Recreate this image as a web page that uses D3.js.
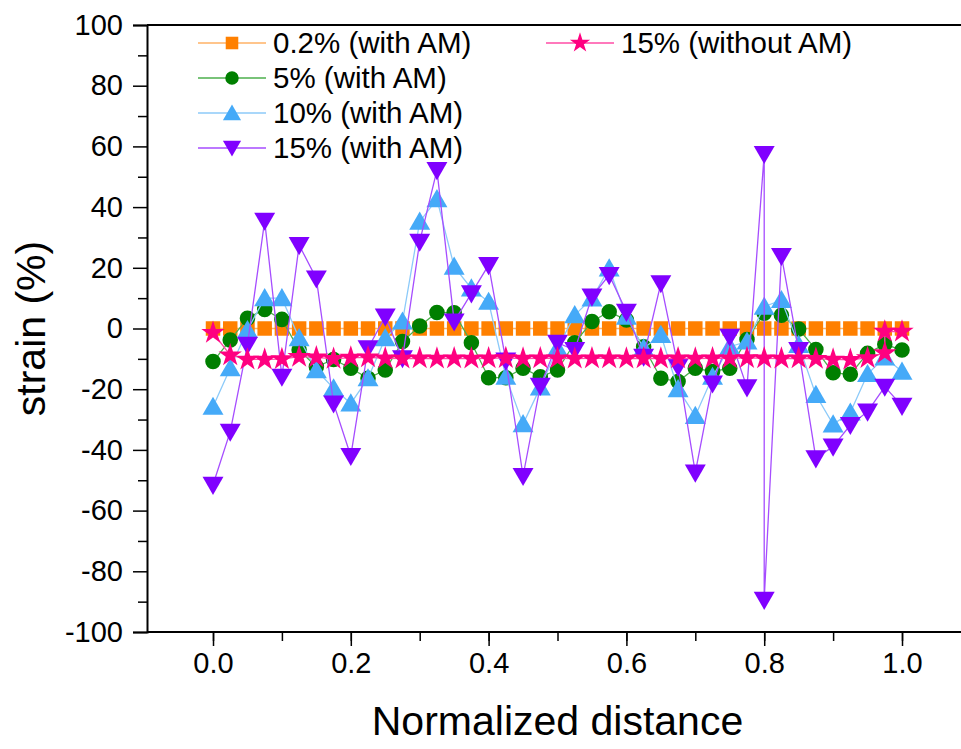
<!DOCTYPE html>
<html>
<head>
<meta charset="utf-8">
<script src="https://cdn.jsdelivr.net/npm/d3@7"></script>
<style>
  body { margin: 0; background: #fff; }
  text { font-family: "Liberation Sans", Arial, sans-serif; }
</style>
</head>
<body>
<div id="chart"></div>
<script>
// normalized distance, 41 stations (0 .. 1 in 0.025 steps)
var xs = d3.range(41).map(function(i){ return +(i * 0.025).toFixed(3); });

// strain values
var s02 = [0,0,0,0,0,0,0,0,0,0, 0,0,0,0,0,0,0,0,0,0, 0,0,0,0,0,0,0,0,0,0, 0,0,0,0,0,0,0,0,0,0, 0];
var s5 = [-10.9,-3.8,3.4,6.3,3.0,-7.1,-12.6,-10.2,-13.1,-16.4,
          -13.7,-4.3,0.8,5.3,5.2,-4.7,-16.2,-16.2,-13.1,-15.9,
          -13.7,-4.7,2.3,5.5,2.8,-6.0,-16.4,-17.5,-13.1,-14.2,
          -13.1,-3.6,5.0,4.4,-0.2,-6.9,-14.6,-15.1,-8.2,-5.2,-7.1];
var s10 = [-25.8,-13.1,-0.5,10,10,-3.2,-13.7,-19.7,-24.7,-16.4,
           -3.2,2.3,35.2,42.6,20.4,13.2,8.8,-15.9,-31.5,-19.4,
           -6.5,4.4,9.9,19.8,3.9,-6.5,-2.1,-20,-28.8,-15.9,
           -6,-4.3,7.2,9.4,-5.4,-21.9,-31.6,-27.7,-15,-9.5,-14.2];
// 15% with AM has two readings at 0.8
var x15 = xs.slice(0, 33).concat([0.8]).concat(xs.slice(33));
var s15 = [-51.5,-34,-5.4,35.5,-15.9,27.5,16.5,-24.7,-42,-6.5,
           3.9,-9.8,28.6,52.2,2.3,11.6,20.9,-10.6,-48.6,-18.9,
           -4.7,-7.1,10.5,17.6,5.5,-9.3,14.9,-12.6,-47.5,-18.1,
           -2.7,-19.4,57.5,-89.4,23.9,-7.1,-42.8,-38.9,-31.8,-27.4,-19.2,-25.5];
// 15% without AM has two readings at 0.975
var x15n = xs.slice(0, 40).concat([0.975, 1.0]);
var s15n = [-1.4,-8.8,-10.2,-10.2,-10.1,-9.3,-9.5,-10,-9.6,-9.5,
            -9.8,-9.9,-9.8,-9.9,-9.8,-9.9,-9.8,-9.7,-9.9,-9.8,
            -9.8,-9.9,-9.8,-9.8,-9.9,-9.8,-9.9,-9.8,-9.9,-9.8,
            -9.8,-9.7,-9.8,-9.9,-9.8,-10,-10.2,-10.3,-9.7,-8.1,-1.0,-1.0];

var yTicks = [-100,-80,-60,-40,-20,0,20,40,60,80,100];
var xTicks = [0.0,0.2,0.4,0.6,0.8,1.0];

var series = [
  { name: "0.2% (with AM)", x: xs, y: s02, color: "#ff8000", line: "#ffb266", sym: d3.symbolSquare, size: 210, rot: 0 },
  { name: "5% (with AM)", x: xs, y: s5, color: "#007f00", line: "#4caf4c", sym: d3.symbolCircle, size: 190, rot: 0 },
  { name: "10% (with AM)", x: xs, y: s10, color: "#45aaf8", line: "#8ccaf9", sym: d3.symbolTriangle, size: 190, rot: 0 },
  { name: "15% (with AM)", x: x15, y: s15, color: "#8000ff", line: "#a64dff", sym: d3.symbolTriangle, size: 190, rot: 180 },
  { name: "15% (without AM)", x: x15n, y: s15n, color: "#ff0080", line: "#ff4da6", sym: d3.symbolStar, size: 170, rot: 0 }
];

var width = 961, height = 749;
var margin = { top: 25, left: 147, bottom: 117 };

var svg = d3.select("#chart").append("svg")
  .attr("width", width).attr("height", height);

var x = d3.scaleLinear().domain([-0.0958, 1.1]).range([margin.left, margin.left + 1.1958 * 689]);
var y = d3.scaleLinear().domain([-100, 100]).range([height - margin.bottom, margin.top]);

// frame: top line
svg.append("line")
  .attr("x1", margin.left).attr("x2", width)
  .attr("y1", y(100)).attr("y2", y(100))
  .attr("stroke", "#000").attr("stroke-width", 2);

// minor ticks
var xAxisMinor = d3.axisBottom(x).tickValues(d3.range(-0.0, 1.11, 0.1)).tickSize(9).tickFormat("");
var yAxisMinor = d3.axisLeft(y).tickValues(d3.range(-90, 100, 20)).tickSize(9).tickFormat("");

var gxm = svg.append("g").attr("transform", "translate(0," + y(-100) + ")").call(xAxisMinor);
var gym = svg.append("g").attr("transform", "translate(" + margin.left + ",0)").call(yAxisMinor);
[gxm, gym].forEach(function(g){
  g.select(".domain").remove();
  g.selectAll("line").attr("stroke", "#000").attr("stroke-width", 1.5);
});

var gx = svg.append("g").attr("transform", "translate(0," + y(-100) + ")")
  .call(d3.axisBottom(x).tickValues(xTicks).tickSize(14).tickPadding(6).tickFormat(d3.format(".1f")));
var gy = svg.append("g").attr("transform", "translate(" + margin.left + ",0)")
  .call(d3.axisLeft(y).tickValues(yTicks).tickSize(14).tickPadding(10).tickFormat(function(d){ return String(d); }));

[gx, gy].forEach(function(g){
  g.select(".domain").attr("stroke", "#000").attr("stroke-width", 2);
  g.selectAll(".tick line").attr("stroke", "#000").attr("stroke-width", 1.5);
  g.selectAll(".tick text").attr("font-size", 29).attr("fill", "#000")
    .style("font-family", "'Liberation Sans', Arial, sans-serif");
});
gx.select(".domain").attr("d", "M" + margin.left + ",0H" + width);

// axis titles
svg.append("text")
  .attr("x", x(0.5)).attr("y", 735)
  .attr("text-anchor", "middle").attr("font-size", 41)
  .text("Normalized distance");
svg.append("text")
  .attr("transform", "translate(45," + y(0) + ") rotate(-90)")
  .attr("text-anchor", "middle").attr("font-size", 41)
  .text("strain (%)");

// series
var line = d3.line();
series.forEach(function(s){
  var pts = s.x.map(function(d, i){ return [x(d), y(s.y[i])]; });
  var g = svg.append("g");
  g.append("path").attr("d", line(pts))
    .attr("fill", "none").attr("stroke", s.line).attr("stroke-width", 1.3);
  g.selectAll("path.m").data(pts).join("path").attr("class", "m")
    .attr("d", d3.symbol(s.sym, s.size))
    .attr("transform", function(p){
      var dy = s.sym === d3.symbolTriangle ? (s.rot ? -2 : 2) : 0;
      return "translate(" + p[0] + "," + (p[1] + dy) + ") rotate(" + s.rot + ")";
    })
    .attr("fill", s.color);
});

// legend
var legPos = [
  { x: 198, y: 43 }, { x: 198, y: 78 }, { x: 198, y: 113 }, { x: 198, y: 148 }, { x: 546, y: 43 }
];
series.forEach(function(s, i){
  var p = legPos[i];
  var g = svg.append("g").attr("transform", "translate(" + p.x + "," + p.y + ")");
  g.append("line").attr("x1", 0).attr("x2", 68).attr("y1", 0).attr("y2", 0)
    .attr("stroke", s.line).attr("stroke-width", 1.3);
  g.append("path").attr("d", d3.symbol(s.sym, s.size * 0.75))
    .attr("transform", "translate(34," + (s.sym === d3.symbolTriangle ? (s.rot ? -2 : 2) : 0) + ") rotate(" + s.rot + ")")
    .attr("fill", s.color);
  g.append("text").attr("x", 75).attr("y", 0).attr("dy", "0.35em")
    .attr("font-size", 29.5).text(s.name);
});
</script>
</body>
</html>
